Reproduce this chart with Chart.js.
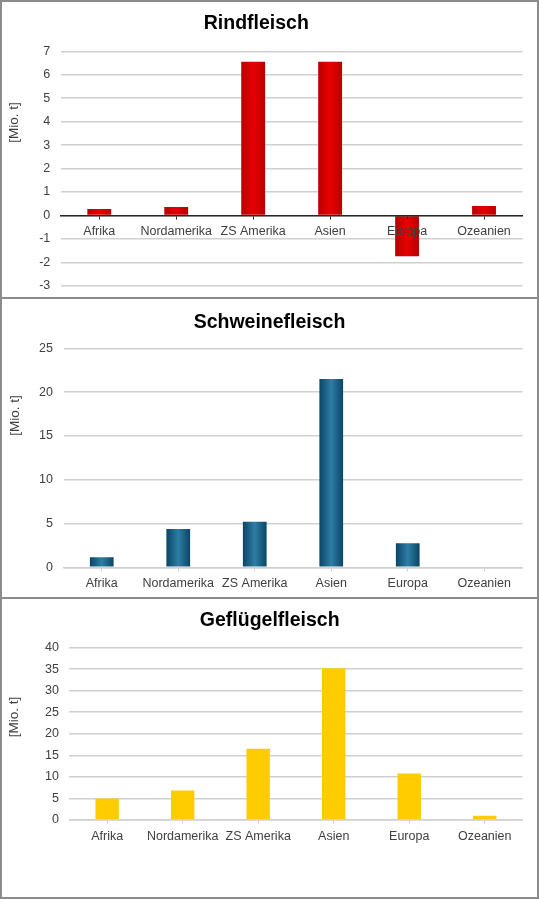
<!DOCTYPE html>
<html><head><meta charset="utf-8">
<script src="https://cdn.jsdelivr.net/npm/chart.js@4/dist/chart.umd.min.js"></script>
<style>
html,body{margin:0;padding:0;background:#fff;}
#wrap{position:relative;width:539px;height:899px;overflow:hidden;background:#fff;}
canvas{position:absolute;left:0;}
.frame{position:absolute;left:0;width:539px;box-sizing:border-box;border:2px solid #8c8c8c;pointer-events:none;z-index:2;}
</style></head>
<body><div id="wrap">
<canvas id="c1" width="539" height="310" style="top:0px"></canvas>
<canvas id="c2" width="539" height="299" style="top:298px"></canvas>
<canvas id="c3" width="539" height="298" style="top:599px"></canvas>
<div class="frame" style="top:0px;height:299px"></div>
<div class="frame" style="top:297px;height:302px"></div>
<div class="frame" style="top:597px;height:302px"></div>
</div>
<script>
// ---- data ----
const categories = ['Afrika', 'Nordamerika', 'ZS Amerika', 'Asien', 'Europa', 'Ozeanien'];
const rindValues = [0.27, 0.36, 6.55, 6.55, -1.74, 0.40];
const schweinValues = [1.14, 4.38, 5.2, 21.5, 2.74, 0];
const gefluegelValues = [5.0, 6.85, 16.5, 35.2, 10.8, 1.0];
const chartTitles = ['Rindfleisch', 'Schweinefleisch', 'Geflügelfleisch'];
const yAxisLabel = '[Mio. t]';
const rindTickRange = [-3, 7, 1];
const schweinTickRange = [0, 25, 5];
const gefluegelTickRange = [0, 40, 5];

// ---- rendering ----
const FONT = '"Liberation Sans", Arial, Helvetica, sans-serif';
Chart.defaults.font.family = FONT;
const BAR_FRAC = 0.31;

function hGrad(edge, mid) {
  return function (ctx) {
    const chart = ctx.chart;
    const xs = chart.scales && chart.scales.x;
    if (!chart.chartArea || !xs || ctx.dataIndex === undefined || !xs.ticks || !xs.ticks.length) return mid;
    const cx = xs.getPixelForValue(ctx.dataIndex);
    const w = (xs.width / xs.ticks.length) * BAR_FRAC;
    const g = chart.ctx.createLinearGradient(cx - w / 2, 0, cx + w / 2, 0);
    g.addColorStop(0, edge);
    g.addColorStop(0.5, mid);
    g.addColorStop(1, edge);
    return g;
  };
}

const panelText = {
  id: 'panelText',
  afterDraw(chart, args, o) {
    const c = chart.ctx;
    c.save();
    c.fillStyle = '#000';
    c.font = 'bold 19.5px ' + FONT;
    c.textAlign = 'center';
    c.textBaseline = 'alphabetic';
    c.fillText(o.title, o.tx, o.ty);
    c.translate(o.lx, o.ly);
    c.rotate(-Math.PI / 2);
    c.font = '13.5px ' + FONT;
    c.fillStyle = '#404040';
    c.textBaseline = 'middle';
    c.fillText(o.label, 0, 0);
    c.restore();
  }
};

function makeChart(id, title, values, range, color, geo) {
  return new Chart(document.getElementById(id), {
    type: 'bar',
    data: {
      labels: categories,
      datasets: [{
        data: values,
        backgroundColor: color,
        borderWidth: 0,
        categoryPercentage: 1,
        barPercentage: BAR_FRAC
      }]
    },
    plugins: [panelText],
    options: {
      responsive: false,
      animation: false,
      layout: { padding: { left: 0, top: geo.top, bottom: geo.bottom, right: geo.right } },
      plugins: {
        legend: { display: false },
        tooltip: { enabled: false },
        title: { display: false },
        panelText: { title: title, tx: geo.tx, ty: geo.ty, label: yAxisLabel, lx: geo.lx, ly: geo.ly }
      },
      scales: {
        x: {
          position: { y: 0 },
          grid: { offset: false, drawOnChartArea: false, drawTicks: true, tickLength: 3, color: geo.axisColor, lineWidth: 1, z: 1 },
          border: { display: true, color: geo.axisColor, width: geo.axisWidth, z: 1 },
          ticks: { color: '#404040', font: { size: 12.5 }, padding: geo.labelPad, autoSkip: false, maxRotation: 0, z: 2 }
        },
        y: {
          min: range[0], max: range[1],
          afterFit(scale) { scale.width = geo.yw; },
          grid: { color: '#d0d0d0', lineWidth: 1.5, drawTicks: false },
          border: { display: false },
          ticks: { stepSize: range[2], color: '#404040', font: { size: 12.5 }, padding: 10.5 }
        }
      }
    }
  });
}

makeChart('c1', chartTitles[0], rindValues, rindTickRange, hGrad('#b80000', '#e80000'), {
  top: 51.3, bottom: 24.3, right: 16.5, yw: 60.8,
  tx: 256.3, ty: 29, lx: 14, ly: 122.5,
  axisColor: '#262626', axisWidth: 1.5, labelPad: 6
});
makeChart('c2', chartTitles[1], schweinValues, schweinTickRange, hGrad('#0b4565', '#2d7ea6'), {
  top: 50.3, bottom: 29.7, right: 16.5, yw: 63.5,
  tx: 269.5, ty: 29.5, lx: 15, ly: 117.5,
  axisColor: '#d0d0d0', axisWidth: 1.5, labelPad: 6
});
makeChart('c3', chartTitles[2], gefluegelValues, gefluegelTickRange, '#ffcc00', {
  top: 48.5, bottom: 77, right: 16.5, yw: 69.4,
  tx: 269.7, ty: 27, lx: 14, ly: 118,
  axisColor: '#d0d0d0', axisWidth: 1.5, labelPad: 6
});
</script>
</body></html>
